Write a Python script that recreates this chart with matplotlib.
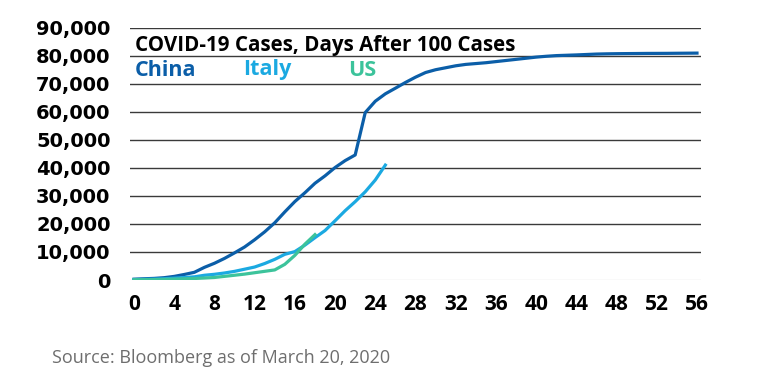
import matplotlib
matplotlib.use("Agg")
from matplotlib import pyplot as plt
from matplotlib.ticker import FuncFormatter

# cumulative cases, days after 100 cases
china = [291, 440, 571, 830, 1287, 1975, 2744, 4515, 5974, 7711,
         9692, 11791, 14380, 17205, 20438, 24324, 28018, 31161, 34546, 37198,
         40171, 42638, 44653, 59804, 63851, 66492, 68500, 70548, 72436, 74100,
         75100, 75800, 76500, 77000, 77300, 77600, 78000, 78400, 78800, 79200,
         79600, 79900, 80136, 80261, 80386, 80537, 80690, 80770, 80823, 80860,
         80887, 80921, 80932, 80945, 80977, 81003, 81033]
italy = [155, 229, 322, 453, 655, 888, 1128, 1694, 2036, 2502,
         3089, 3858, 4636, 5883, 7375, 9172, 10149, 12462, 15113, 17660,
         21157, 24747, 27980, 31506, 35713, 41035]
us = [100, 124, 158, 221, 319, 435, 541, 704, 900, 1300,
      1700, 2100, 2600, 3100, 3600, 5600, 8800, 12800, 16200]

xticks = list(range(0, 57, 4))
yticks = list(range(0, 90001, 10000))

c_china = '#0b5ea8'
c_italy = '#1ba9e1'
c_us = '#3cc39b'

fig = plt.figure(figsize=(7.69, 3.86), dpi=100)
ax = fig.add_axes([130/769, 1-280/386, 571/769, 252/386])

for y in yticks[1:]:
	ax.axhline(y, color='#3a3a3a', lw=1.0, zorder=1)
ax.axhline(0, color='#e2e2e2', lw=1.0, zorder=1)

ax.plot(range(len(china)), china, c=c_china, lw=2.3, zorder=3)
ax.plot(range(len(italy)), italy, c=c_italy, lw=2.3, zorder=3)
ax.plot(range(len(us)), us, c=c_us, lw=2.3, zorder=4)

ax.set_xlim(-0.4, 56.4)
ax.set_ylim(0, 90000)
ax.set_xticks(xticks)
ax.set_yticks(yticks)
ax.yaxis.set_major_formatter(FuncFormatter(lambda v, p: '{:,}'.format(int(v))))
for s in ax.spines.values():
	s.set_visible(False)
ax.tick_params(axis='both', length=0)
ax.tick_params(axis='y', pad=14)
ax.tick_params(axis='x', pad=10)
for lab in ax.get_xticklabels():
	lab.set_fontfamily('Open Sans')
	lab.set_fontweight('bold')
	lab.set_fontsize(15)
for lab in ax.get_yticklabels():
	lab.set_fontfamily('DejaVu Sans')
	lab.set_fontweight('bold')
	lab.set_fontsize(14)

fig.text(135/769, 1-45/386, 'COVID-19 Cases, Days After 100 Cases', fontsize=14.8,
         fontweight='bold', family='Open Sans', va='center', ha='left')
fig.text(135/769, 1-70/386, 'China', color=c_china, fontsize=15.5,
         fontweight='bold', family='Open Sans', va='center', ha='left')
fig.text(243/769, 1-70/386, 'Italy', color=c_italy, fontsize=15.5,
         fontweight='bold', family='Open Sans', va='center', ha='left')
fig.text(348/769, 1-70/386, 'US', color=c_us, fontsize=15.5,
         fontweight='bold', family='Open Sans', va='center', ha='left')

fig.text(52/769, 1-358/386, 'Source: Bloomberg as of March 20, 2020', color='#6e6e6e',
         fontsize=13, family='Open Sans', va='center', ha='left')

fig.savefig('out.png', dpi=100)
